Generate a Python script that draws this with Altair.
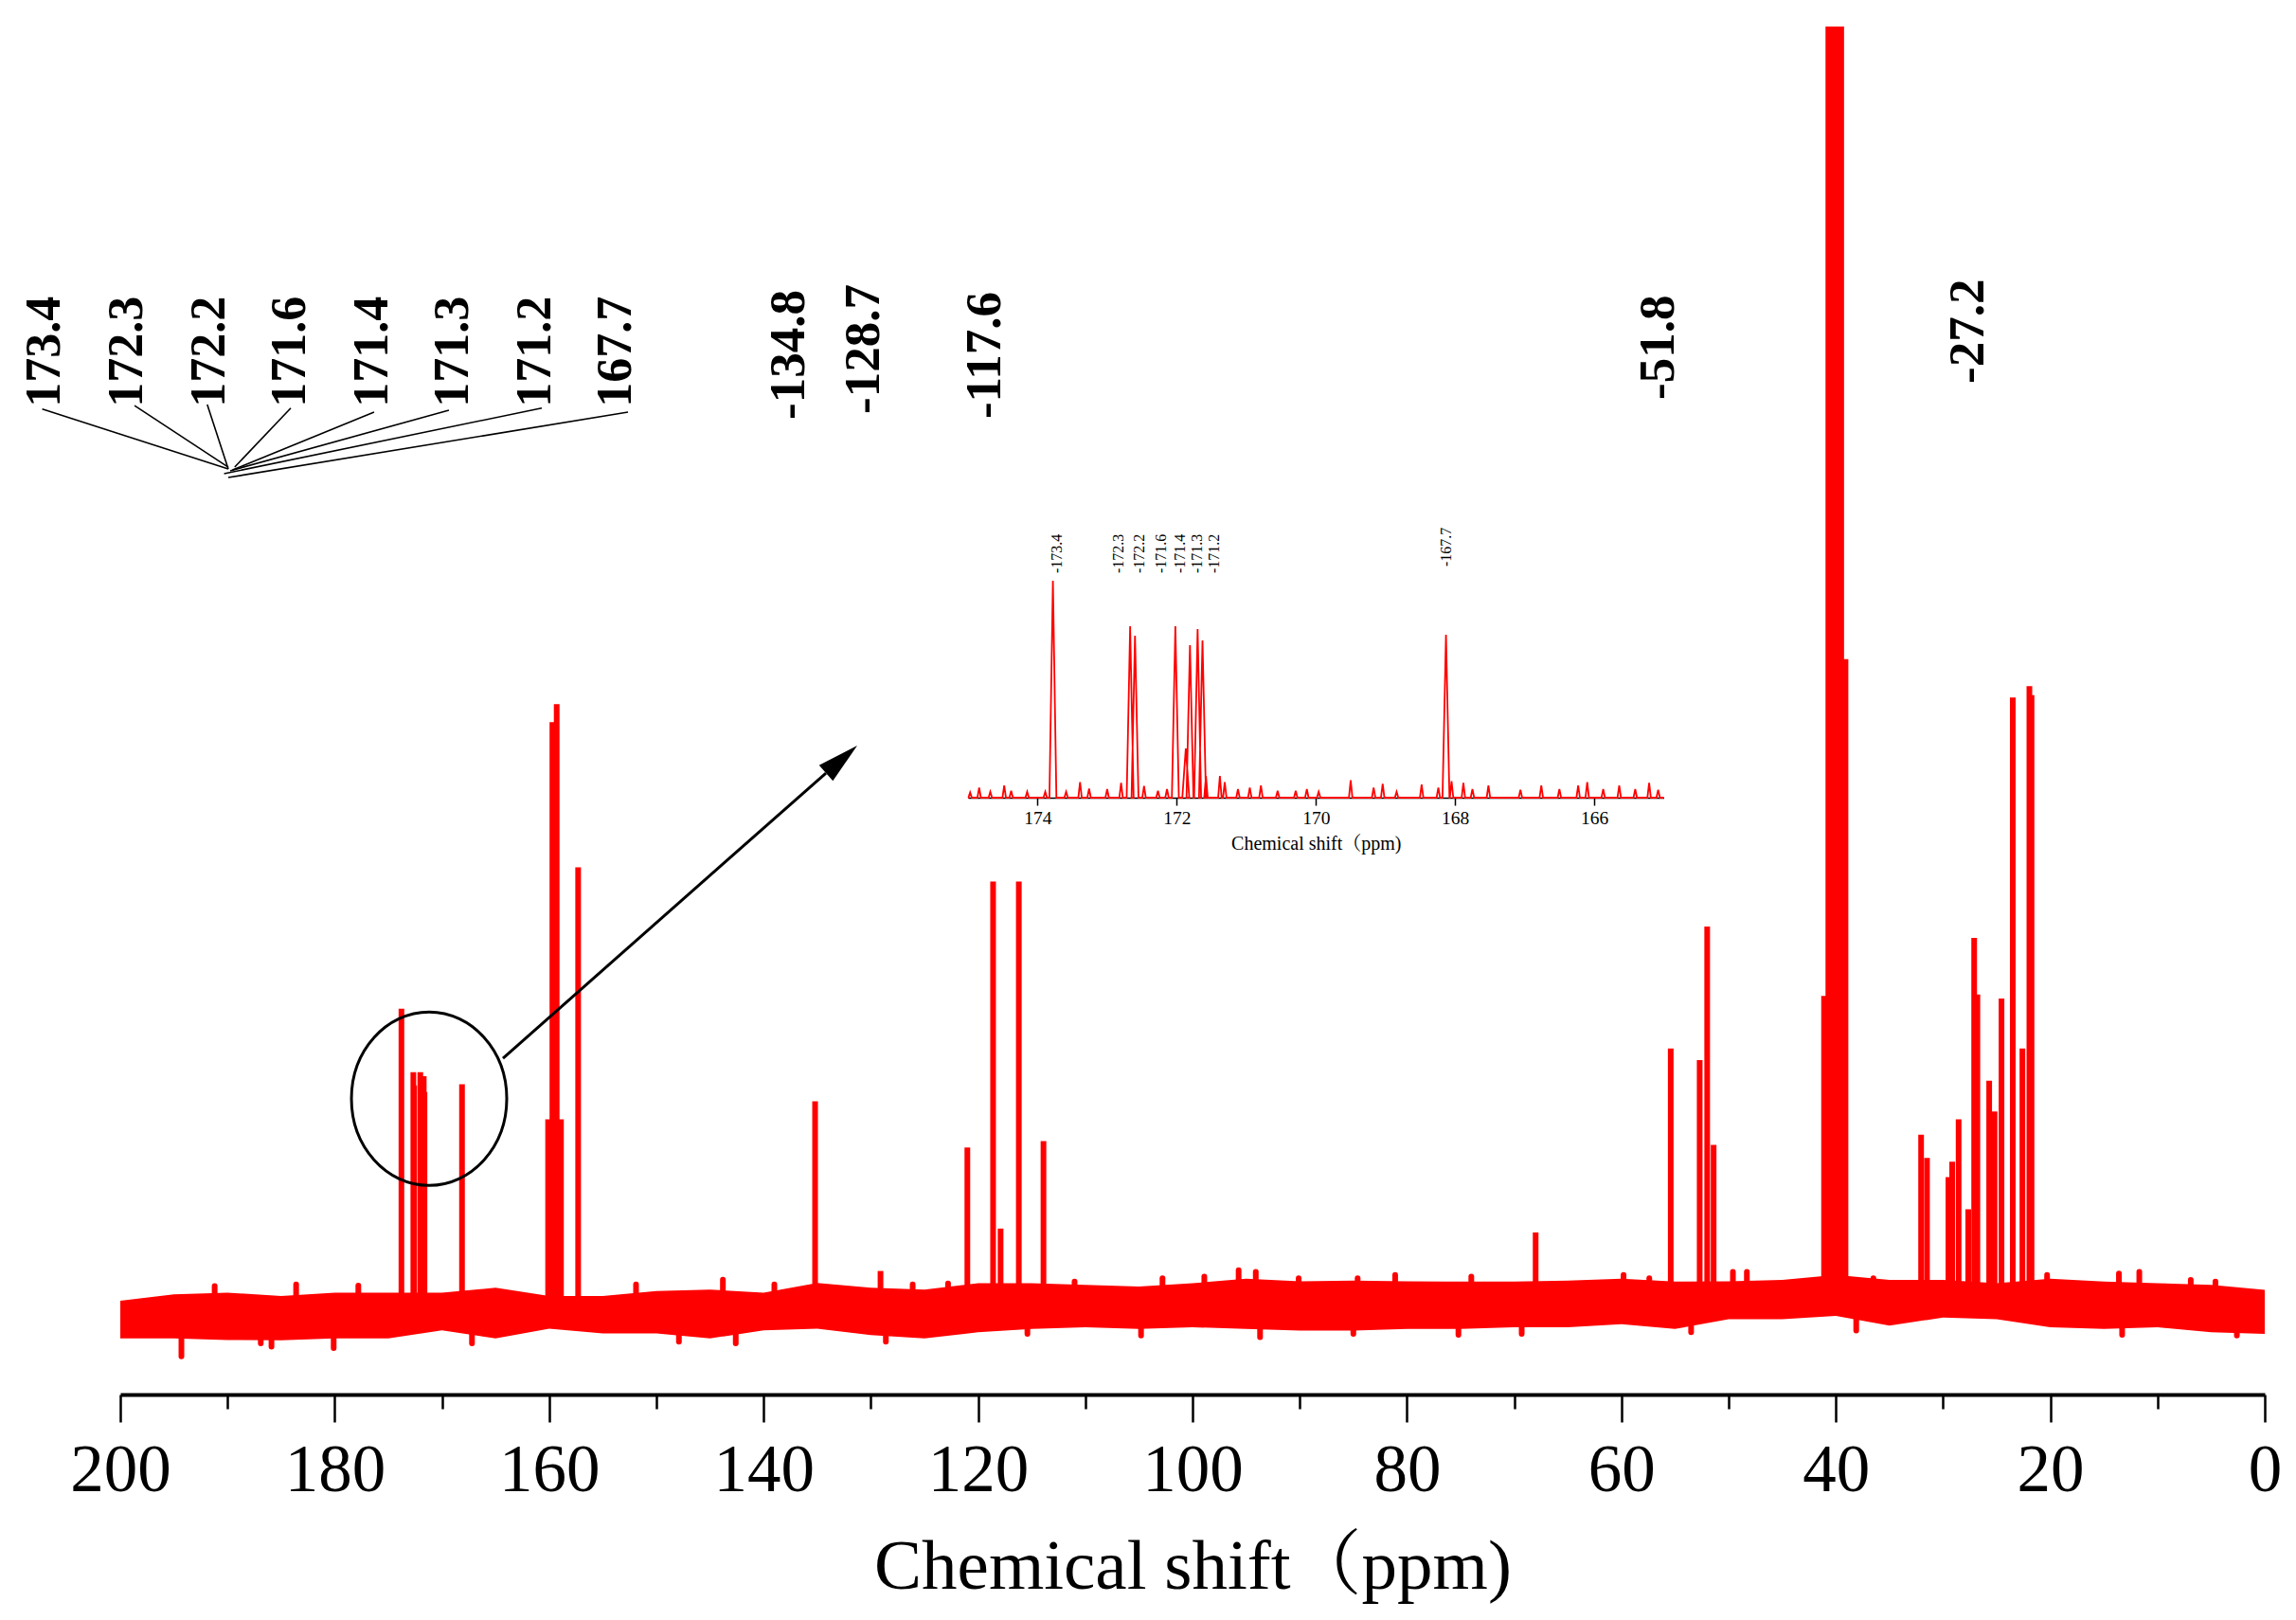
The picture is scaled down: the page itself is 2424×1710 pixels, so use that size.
import altair as alt
import pandas as pd

# ---------------- data ----------------
# carbonyl region (also shown in the inset)
carb_ppm = [173.78, 172.67, 172.60, 172.02, 171.87, 171.81, 171.70, 171.63, 168.13]
carb_int = [23.6, 18.66, 17.63, 18.66, 5.36, 16.6, 18.35, 17.11, 17.73]

# remaining peaks of the full spectrum
peak_ppm = [160.1, 159.7, 159.3, 158.9, 157.3, 135.2, 129.1, 121.0, 118.6, 117.9,
            116.2, 113.9, 68.0, 55.4, 52.7, 52.0, 51.4, 41.1, 40.7, 40.4, 40.1,
            39.8, 39.5, 39.1, 32.05, 31.5, 29.5, 29.15, 28.55, 27.65, 27.1, 26.8,
            25.7, 25.2, 24.55, 23.5, 22.6, 21.95, 21.75]
peak_int = [15.0, 45.9, 47.3, 15.0, 34.6, 16.4, 3.2, 12.8, 33.5, 6.5,
            33.5, 13.3, 6.2, 20.5, 19.6, 30.0, 13.0, 24.6, 120, 120, 120,
            120, 120, 50.8, 13.8, 12.0, 10.5, 11.7, 15.0, 8.0, 29.1, 24.7,
            18.0, 15.6, 24.4, 47.8, 20.5, 48.7, 48.0]

# noise spikes standing out of the baseline band (up and down)
spike_ppm = [191.2, 183.6, 177.8, 151.9, 143.8, 139.0, 126.1, 122.8, 111.0, 102.8,
             98.9, 95.7, 94.1, 90.1, 84.6, 81.1, 74.0, 59.8, 57.4, 49.6, 48.3, 36.5,
             20.3, 13.6, 11.7, 6.9, 4.6]
spike_int = [2.02, 2.15, 2.07, 2.15, 2.53, 2.15, 2.15, 2.23, 2.38, 2.63,
             2.76, 3.26, 3.14, 2.63, 2.63, 2.89, 2.76, 2.89, 2.63, 3.14, 3.14, 2.63,
             2.89, 3.01, 3.14, 2.5, 2.38]
dip_ppm = [194.3, 186.9, 185.9, 180.1, 167.2, 147.9, 142.6, 128.6, 115.4, 104.8,
           93.7, 85.0, 75.2, 69.3, 53.5, 38.1, 13.3, 2.6]
dip_int = [-3.44, -2.43, -2.68, -2.80, -2.43, -2.30, -2.43, -2.30, -1.69, -1.82,
           -1.95, -1.69, -1.77, -1.69, -1.56, -1.43, -1.77, -1.82]

# baseline noise envelope
band_ppm = [200, 195, 190, 185, 180, 175, 170, 165, 160, 155, 150, 145, 140, 135,
            130, 125, 120, 115, 110, 105, 100, 95, 90, 85, 80, 75, 70, 65, 60, 55,
            50, 45, 40, 35, 30, 25, 20, 15, 10, 5, 0]
band_hi = [0.88, 1.39, 1.51, 1.26, 1.51, 1.51, 1.51, 1.89, 1.26, 1.26, 1.64, 1.76,
           1.51, 2.27, 1.89, 1.76, 2.25, 2.25, 2.12, 2.0, 2.25, 2.6, 2.4, 2.45, 2.4,
           2.38, 2.38, 2.45, 2.6, 2.38, 2.4, 2.5, 2.9, 2.5, 2.5, 2.25, 2.6, 2.38,
           2.25, 2.12, 1.74]
band_lo = [-2.05, -2.05, -2.17, -2.2, -2.05, -2.05, -1.41, -2.05, -1.28, -1.66,
           -1.66, -2.05, -1.41, -1.28, -1.79, -2.05, -1.56, -1.31, -1.18, -1.31,
           -1.18, -1.31, -1.43, -1.43, -1.31, -1.31, -1.18, -1.18, -0.93, -1.31,
           -0.55, -0.55, -0.29, -1.05, -0.42, -0.55, -1.18, -1.31, -1.18, -1.56,
           -1.69]

# small noise spikes visible in the inset
inoise_ppm = [174.97, 174.84, 174.68, 174.48, 174.38, 174.15, 173.89, 173.59, 173.39,
              173.26, 173.0, 172.80, 172.47, 172.27, 172.14, 171.58, 171.38, 171.31,
              171.12, 170.95, 170.79, 170.55, 170.29, 170.13, 169.96, 169.50, 169.17,
              169.04, 168.84, 168.48, 168.24, 168.05, 167.88, 167.75, 167.52, 167.06,
              166.76, 166.50, 166.23, 166.10, 165.87, 165.64, 165.41, 165.21, 165.08]
inoise_int = [0.58, 1.10, 0.65, 1.34, 0.76, 0.65, 0.65, 0.65, 1.68, 1.0, 0.93, 1.62,
              1.27, 0.76, 0.93, 2.37, 2.37, 1.68, 0.93, 1.10, 1.34, 0.76, 0.76, 0.93,
              0.65, 1.89, 1.10, 1.51, 0.65, 1.44, 1.10, 1.79, 1.62, 0.93, 1.34, 0.86,
              1.34, 0.93, 1.34, 1.68, 0.93, 1.34, 0.93, 1.62, 0.86]

# annotation texts
tl_labels = ["173.4", "172.3", "172.2", "171.6", "171.4", "171.3", "171.2", "167.7"]
mid_labels = ["-134.8", "-128.7", "-117.6", "-51.8", "-27.2"]
inset_labels = ["-173.4", "-172.3", "-172.2", "-171.6", "-171.4", "-171.3", "-171.2", "-167.7"]

# ---------------- annotation layout (in data coordinates) ----------------
tl_x = [207.07, 199.38, 191.70, 184.19, 176.50, 168.99, 161.31, 153.80]
tl_y = 70.4
lead_x0 = [207.28, 198.67, 191.89, 184.10, 176.33, 169.35, 160.69, 152.65]
lead_y0 = [70.25, 70.52, 70.60, 70.32, 70.01, 70.16, 70.32, 70.01]
lead_x1 = [189.93, 189.93, 189.93, 189.33, 189.53, 189.75, 190.32, 189.93]
lead_y1 = [65.59, 65.73, 65.59, 65.73, 65.51, 65.44, 65.22, 64.92]
mid_x = [137.63, 130.65, 119.35, 56.54, 27.65]
mid_y = [69.42, 69.86, 69.49, 70.97, 72.22]
ins_lab_x = [173.72, 172.83, 172.53, 172.22, 171.95, 171.71, 171.46, 168.12]
ins_lab_y = [24.43, 24.43, 24.43, 24.43, 24.43, 24.43, 24.43, 25.15]
ellipse_ppm, ellipse_int = 171.2, 16.6
arrow_start = (164.31, 19.75)
arrow_base = (134.19, 41.93)
arrow_tip = (131.27, 44.07)

FONT = "'Liberation Serif', 'Times New Roman', 'Noto Serif CJK SC', 'Noto Sans CJK SC', serif"
RED = "#FF0000"

# ---------------- tables ----------------
peaks_df = pd.DataFrame({
    "ppm": carb_ppm + peak_ppm,
    "inten": carb_int + peak_int,
})
peaks_df["base"] = 0.0
noise_df = pd.DataFrame({"ppm": spike_ppm + dip_ppm, "inten": spike_int + dip_int})
noise_df["base"] = 0.0
band_df = pd.DataFrame({"ppm": band_ppm, "hi": band_hi, "lo": band_lo})

# inset line: narrow triangular peaks on a flat baseline
pts = [(p, h, 0.05) for p, h in zip(carb_ppm, carb_int)] + \
      [(p, h, 0.025) for p, h in zip(inoise_ppm, inoise_int)]
pts.sort(key=lambda t: -t[0])
rows = [(175.0, 0.0)]
for p, h, w in pts:
    rows += [(p + w, 0.0), (p, h), (p - w, 0.0)]
rows.append((165.0, 0.0))
inset_df = pd.DataFrame({"ppm": [r[0] for r in rows], "inten": [r[1] for r in rows],
                         "idx": list(range(len(rows)))})

# ---------------- main scales ----------------
xs = alt.Scale(domain=[200, 0], nice=False, zero=False)
ys = alt.Scale(domain=[-6.41, 100], nice=False, zero=False)
main_axis = alt.Axis(
    values=list(range(0, 201, 10)),
    labelExpr="datum.value % 20 === 0 ? datum.label : ''",
    tickSize={"condition": {"test": "datum.value % 20 === 0", "value": 29}, "value": 15},
    tickWidth=2.5, tickColor="black", domainColor="black", domainWidth=4,
    labelFont=FONT, labelFontSize=71, labelColor="black", labelPadding=16,
    labelFlush=False, labelOverlap=False, grid=False,
    title="Chemical shift（ppm)", titleFont=FONT, titleFontSize=75,
    titleFontWeight="normal", titleColor="black", titlePadding=30,
)


def X(f="ppm"):
    return alt.X(f"{f}:Q", scale=xs, axis=main_axis)


def Y(f="inten"):
    return alt.Y(f"{f}:Q", scale=ys, axis=None)


band = alt.Chart(band_df).mark_area(color=RED, opacity=1).encode(
    x=X(), y=Y("hi"), y2="lo:Q")

noise = alt.Chart(noise_df).mark_rule(color=RED, strokeWidth=6, strokeCap="round").encode(
    x=X(), y=Y(), y2="base:Q")

peaks = alt.Chart(peaks_df).mark_rule(color=RED, strokeWidth=6, clip=True).encode(
    x=X(), y=Y(), y2="base:Q")

ELLIPSE = "M -0.896 0 A 0.896 1 0 1 0 0.896 0 A 0.896 1 0 1 0 -0.896 0 Z"
ellipse = alt.Chart(pd.DataFrame({"ppm": [ellipse_ppm], "inten": [ellipse_int]})).mark_point(
    shape=ELLIPSE, size=33489, filled=False, color="black", strokeWidth=3, opacity=1
).encode(x=X(), y=Y())

arrow_line = alt.Chart(pd.DataFrame({
    "ppm": [arrow_start[0]], "inten": [arrow_start[1]],
    "ppm2": [arrow_base[0]], "inten2": [arrow_base[1]]})).mark_rule(
    color="black", strokeWidth=3).encode(x=X(), y=Y(), x2="ppm2:Q", y2="inten2:Q")

ARROW = "M 0 0 L 0.5 2 L -0.5 2 Z"
arrow_head = alt.Chart(pd.DataFrame({"ppm": [arrow_tip[0]], "inten": [arrow_tip[1]]})).mark_point(
    shape=ARROW, size=1936, filled=True, color="black", angle=48.6, opacity=1
).encode(x=X(), y=Y())

leaders = alt.Chart(pd.DataFrame({
    "ppm": lead_x0, "inten": lead_y0, "ppm2": lead_x1, "inten2": lead_y1})).mark_rule(
    color="black", strokeWidth=1.6).encode(x=X(), y=Y(), x2="ppm2:Q", y2="inten2:Q")

tl_text = alt.Chart(pd.DataFrame({"ppm": tl_x, "inten": [tl_y] * len(tl_x),
                                  "label": tl_labels})).mark_text(
    angle=270, align="left", baseline="middle", font=FONT, fontSize=52,
    fontWeight="bold", color="black").encode(x=X(), y=Y(), text="label:N")

mid_text = alt.Chart(pd.DataFrame({"ppm": mid_x, "inten": mid_y,
                                   "label": mid_labels})).mark_text(
    angle=270, align="left", baseline="middle", font=FONT, fontSize=53,
    fontWeight="bold", color="black").encode(x=X(), y=Y(), text="label:N")

main = alt.layer(band, noise, peaks, ellipse, arrow_line, arrow_head, leaders, tl_text, mid_text)

# ---------------- inset ----------------
xis = alt.Scale(domain=[175, 165], range=[895, 1629.5], nice=False, zero=False)
yis = alt.Scale(domain=[0, 24.95], range=[814, 572], nice=False, zero=False)
inset_axis = alt.Axis(
    values=[174, 172, 170, 168, 166], orient="bottom", offset=-630,
    tickSize=8, tickWidth=1.5, tickColor="black", domainColor="black", domainWidth=1.5,
    labelFont=FONT, labelFontSize=19.5, labelColor="black", labelPadding=4,
    labelFlush=False, grid=False,
    title="Chemical shift（ppm)", titleFont=FONT, titleFontSize=20,
    titleFontWeight="normal", titleColor="black", titlePadding=8,
)


def XI():
    return alt.X("ppm:Q", scale=xis, axis=inset_axis)


def YI():
    return alt.Y("inten:Q", scale=yis, axis=None)


inset_line = alt.Chart(inset_df).mark_line(color=RED, strokeWidth=1.8).encode(
    x=XI(), y=YI(), order="idx:Q")

inset_text = alt.Chart(pd.DataFrame({"ppm": ins_lab_x, "inten": ins_lab_y,
                                     "label": inset_labels})).mark_text(
    angle=270, align="left", baseline="middle", font=FONT, fontSize=16,
    color="black").encode(x=XI(), y=YI(), text="label:N")

inset = alt.layer(inset_line, inset_text)

chart = alt.layer(main, inset).resolve_scale(x="independent", y="independent").properties(
    width=2264, height=1444,
    padding={"left": 119, "top": 20, "right": 25, "bottom": 230},
    autosize=alt.AutoSizeParams(type="none"),
    background="white",
).configure_view(stroke=None)

chart.save("out.html", embed_options={"renderer": "svg", "actions": False})
